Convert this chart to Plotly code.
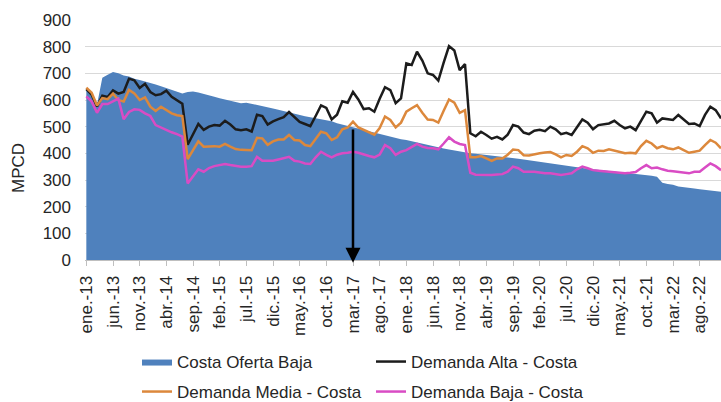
import plotly.graph_objects as go

# periodos mensuales ene.-13 ... dic.-22
meses = ['ene.', 'feb.', 'mar.', 'abr.', 'may.', 'jun.',
         'jul.', 'ago.', 'sep.', 'oct.', 'nov.', 'dic.']
anios = ['13', '14', '15', '16', '17', '18', '19', '20', '21', '22']
periodo = [f'{m}-{a}' for a in anios for m in meses]

# MPCD
oferta_baja = [
    646, 625, 582, 683, 695, 705, 700, 692, 688, 680, 675, 670,
    664, 658, 652, 645, 638, 630, 624, 630, 632, 628, 622, 618,
    612, 607, 602, 598, 592, 588, 590, 586, 582, 578, 572, 568,
    563, 558, 552, 547, 542, 539, 535, 531, 527, 524, 520, 513,
    508, 502, 497, 492, 486, 481, 476, 471, 466, 462, 457, 453,
    450, 445, 441, 436, 432, 427, 423, 418, 414, 410, 406, 403,
    400, 398, 396, 394, 392, 390, 388, 386, 384, 380, 377, 374,
    371, 368, 364, 361, 358, 355, 352, 349, 346, 344, 342, 340,
    338, 336, 334, 332, 330, 328, 326, 324, 322, 319, 316, 312,
    290, 285, 282, 276, 274, 271, 268, 265, 263, 260, 258, 256,
]
demanda_alta = [
    641, 620, 576, 616, 611, 636, 624, 630, 680, 674, 645, 661,
    630, 618, 622, 635, 612, 600, 586, 432, 470, 510, 488, 500,
    506, 504, 522, 508, 490, 487, 490, 482, 545, 540, 508, 520,
    528, 536, 555, 536, 518, 510, 502, 540, 580, 570, 527, 545,
    595, 590, 630, 602, 566, 569, 556, 605, 648, 637, 588, 606,
    737, 731, 781, 748, 700, 694, 673, 740, 802, 786, 712, 735,
    475, 464, 481, 469, 455, 462, 452, 470, 506, 500, 478, 472,
    485, 488, 483, 500, 490, 472, 477, 469, 500, 527, 515, 490,
    506, 510, 512, 522, 506, 494, 500, 487, 522, 556, 550, 515,
    531, 527, 525, 544, 527, 510, 512, 502, 544, 575, 562, 531,
]
demanda_media = [
    646, 627, 579, 607, 603, 624, 600, 594, 638, 625, 600, 610,
    575, 559, 575, 562, 550, 543, 540, 378, 410, 445, 425, 427,
    427, 425, 435, 425, 416, 413, 413, 412, 458, 456, 432, 445,
    452, 452, 469, 450, 448, 431, 427, 455, 481, 475, 450, 460,
    490, 497, 519, 497, 487, 477, 470, 495, 538, 525, 497, 515,
    556, 569, 581, 552, 527, 525, 515, 560, 602, 590, 552, 562,
    385, 385, 390, 381, 372, 381, 381, 395, 414, 412, 393, 392,
    397, 400, 403, 405, 396, 385, 394, 390, 406, 427, 419, 402,
    410, 409, 415, 410, 404, 400, 402, 400, 427, 447, 437, 419,
    427, 419, 415, 422, 412, 402, 406, 410, 431, 450, 440, 419,
]
demanda_baja = [
    614, 594, 552, 585, 585, 596, 605, 528, 555, 565, 563, 550,
    540, 506, 496, 489, 479, 472, 463, 287, 315, 340, 331, 345,
    352, 356, 360, 356, 352, 350, 350, 352, 387, 372, 372, 372,
    377, 381, 387, 372, 369, 362, 360, 385, 406, 394, 385, 395,
    400, 402, 406, 402, 395, 390, 385, 395, 431, 419, 394, 406,
    412, 422, 435, 425, 420, 419, 415, 437, 460, 444, 435, 431,
    327, 320, 319, 319, 319, 321, 322, 331, 350, 344, 331, 331,
    331, 328, 325, 325, 322, 319, 322, 325, 340, 350, 344, 337,
    335, 333, 331, 329, 327, 325, 327, 330, 344, 356, 344, 347,
    340, 335, 333, 331, 328, 325, 331, 331, 347, 362, 352, 337,
]

etiquetas = periodo[::5]
valores_y = [0, 100, 200, 300, 400, 500, 600, 700, 800, 900]

fig = go.Figure()

fig.add_trace(go.Scatter(
    x = periodo, y = oferta_baja, name = 'Costa Oferta Baja',
    mode = 'lines', fill = 'tozeroy', fillcolor = '#4f81bd',
    line = dict(color = '#4f81bd', width = 0), legend = 'legend',
))
fig.add_trace(go.Scatter(
    x = periodo, y = demanda_alta, name = 'Demanda Alta - Costa',
    mode = 'lines', line = dict(color = '#1c1c1c', width = 2.5),
    legend = 'legend2',
))
fig.add_trace(go.Scatter(
    x = periodo, y = demanda_media, name = 'Demanda Media - Costa',
    mode = 'lines', line = dict(color = '#dc883c', width = 2.5),
    legend = 'legend3',
))
fig.add_trace(go.Scatter(
    x = periodo, y = demanda_baja, name = 'Demanda Baja - Costa',
    mode = 'lines', line = dict(color = '#d94cc4', width = 2.5),
    legend = 'legend4',
))

# flecha en mar.-17
i_flecha = periodo.index('mar.-17')
fig.add_annotation(
    x = i_flecha, y = -10, ax = i_flecha, ay = 495,
    xref = 'x', yref = 'y', axref = 'x', ayref = 'y',
    text = '', showarrow = True, arrowhead = 2, arrowsize = 1.2,
    arrowwidth = 2.5, arrowcolor = '#000000', standoff = 0,
)

fig.add_annotation(
    text = 'MPCD', xref = 'paper', yref = 'paper',
    x = (18 - 85) / 636, y = (260 - 168) / 240,
    xanchor = 'center', yanchor = 'middle',
    showarrow = False, textangle = -90,
    font = dict(size = 17, color = '#262626'),
)

def leyenda(x_px, y_px):
    return dict(
        orientation = 'h', x = (x_px - 85) / 636, xanchor = 'left',
        y = (260 - y_px) / 240, yanchor = 'middle',
        font = dict(size = 17), bgcolor = 'rgba(0,0,0,0)',
    )

fig.update_layout(
    width = 721, height = 402,
    margin = dict(l = 85, r = 0, t = 20, b = 142, autoexpand = False),
    paper_bgcolor = 'white', plot_bgcolor = 'white',
    font = dict(family = 'Liberation Sans, Arial, sans-serif', color = '#262626'),
    showlegend = True,
    legend = leyenda(137, 362),
    legend2 = leyenda(371, 362),
    legend3 = leyenda(137, 392),
    legend4 = leyenda(371, 392),
)

fig.update_xaxes(
    type = 'category', range = [-0.25, 119], automargin = False,
    tickmode = 'array', tickvals = etiquetas, ticktext = etiquetas,
    tickangle = -90, tickfont = dict(size = 17), ticklabelstandoff = 3,
    ticks = 'outside', ticklen = 5, tickcolor = '#bfbfbf',
    showline = True, linecolor = '#bfbfbf', linewidth = 1,
    showgrid = False, zeroline = False,
)
fig.update_yaxes(
    range = [0, 900], tickvals = valores_y, automargin = False,
    tickfont = dict(size = 17), ticklabelstandoff = 13,
    showgrid = True, gridcolor = '#d9d9d9', gridwidth = 1,
    zeroline = False, showline = False,
)

# sin margen del body para que la figura ocupe la ventana completa
fig.write_html(
    'out.html',
    config = {'displayModeBar': False},
    post_script = "document.body.style.margin = '0';",
)
